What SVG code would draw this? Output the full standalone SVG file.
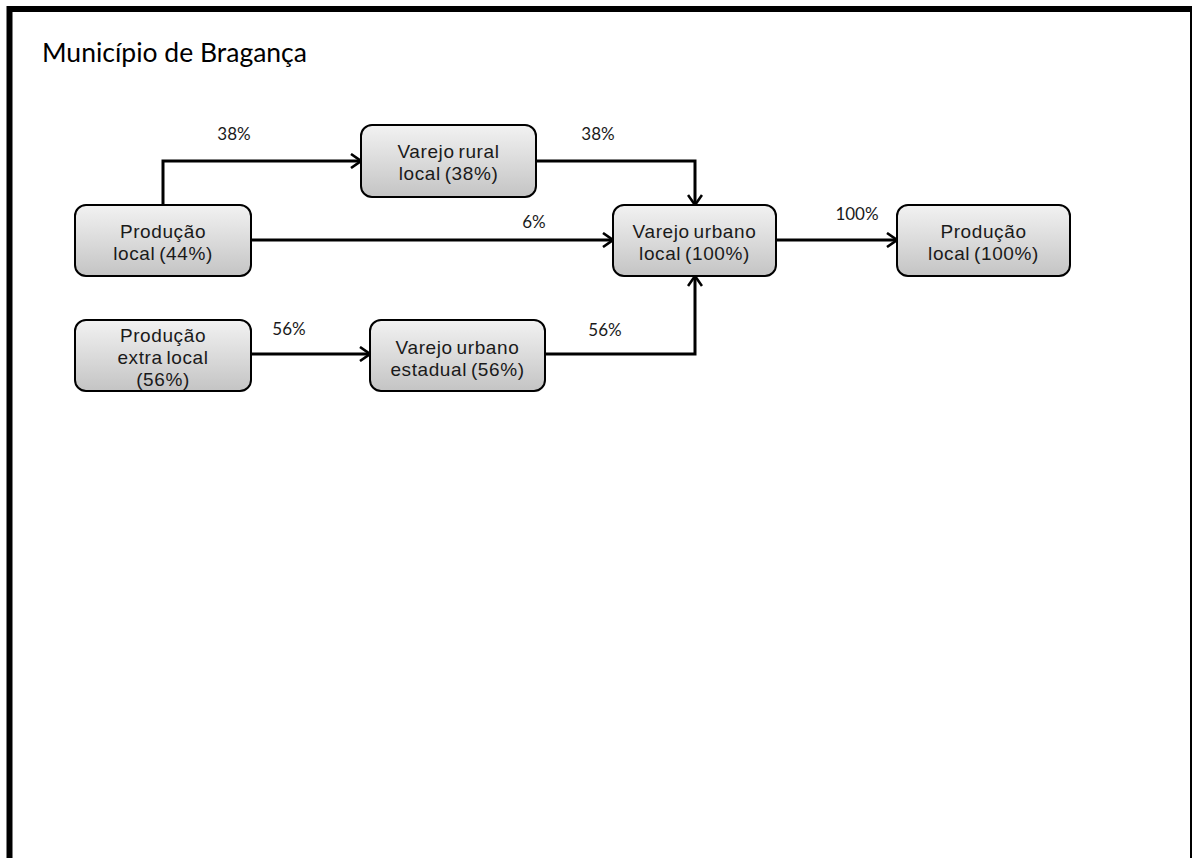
<svg xmlns="http://www.w3.org/2000/svg" width="1192" height="858" viewBox="0 0 1192 858">
  <defs>
    <linearGradient id="boxFill" x1="0" y1="0" x2="0" y2="1">
      <stop offset="0" stop-color="#f2f2f2"/>
      <stop offset="1" stop-color="#c4c4c4"/>
    </linearGradient>
    <marker id="arrow" viewBox="0 0 12 16" refX="11" refY="8" markerWidth="12" markerHeight="16" markerUnits="userSpaceOnUse" orient="auto">
      <path d="M1,1 L11,8 L1,15" fill="none" stroke="#000" stroke-width="2.6" stroke-linejoin="miter"/>
    </marker>
    <style>
      .box { fill: url(#boxFill); stroke: #000; stroke-width: 2; }
      .node-text { font-family: "Liberation Sans", Arial, sans-serif; font-size: 19px; letter-spacing: 0.6px; word-spacing: -2px; fill: #1a1a1a; text-anchor: middle; }
      .flow { fill: none; stroke: #000; stroke-width: 3; marker-end: url(#arrow); }
      .pct { font-family: Lato, "Open Sans", sans-serif; font-size: 17px; fill: #1a1a1a; text-anchor: middle; }
      .title { font-family: Lato, "Open Sans", sans-serif; font-size: 26.5px; fill: #000; }
    </style>
  </defs>

  <rect width="1192" height="858" fill="#fff"/>
  <!-- outer frame, open at the bottom -->
  <rect x="9.5" y="9" width="1183.5" height="900" fill="none" stroke="#000" stroke-width="6"/>

  <text class="title" x="42" y="62">Município de Bragança</text>

  <g id="connectors">
    <path class="flow" d="M163,205 V161 H361"/>
    <path class="flow" d="M536,161 H695 V205"/>
    <path class="flow" d="M251,240 H613"/>
    <path class="flow" d="M776,240 H897"/>
    <path class="flow" d="M251,354 H370"/>
    <path class="flow" d="M545,354 H695 V276"/>
    <text class="pct" x="234" y="140">38%</text>
    <text class="pct" x="598" y="140">38%</text>
    <text class="pct" x="534" y="228">6%</text>
    <text class="pct" x="857" y="220">100%</text>
    <text class="pct" x="289" y="335">56%</text>
    <text class="pct" x="605" y="336">56%</text>
  </g>

  <g id="producao-local-44">
    <rect class="box" x="75" y="205" width="176" height="71" rx="11"/>
    <text class="node-text" x="163" y="238">Produção</text>
    <text class="node-text" x="163" y="260">local (44%)</text>
  </g>

  <g id="varejo-rural-local">
    <rect class="box" x="361" y="125" width="175" height="72" rx="11"/>
    <text class="node-text" x="448.5" y="158">Varejo rural</text>
    <text class="node-text" x="448.5" y="180">local (38%)</text>
  </g>

  <g id="varejo-urbano-local">
    <rect class="box" x="613" y="205" width="163" height="71" rx="11"/>
    <text class="node-text" x="694.5" y="238">Varejo urbano</text>
    <text class="node-text" x="694.5" y="260">local (100%)</text>
  </g>

  <g id="producao-local-100">
    <rect class="box" x="897" y="205" width="173" height="71" rx="11"/>
    <text class="node-text" x="983.5" y="238">Produção</text>
    <text class="node-text" x="983.5" y="260">local (100%)</text>
  </g>

  <g id="producao-extra-local">
    <rect class="box" x="75" y="320" width="176" height="71" rx="11"/>
    <text class="node-text" x="163" y="342">Produção</text>
    <text class="node-text" x="163" y="364">extra local</text>
    <text class="node-text" x="163" y="386">(56%)</text>
  </g>

  <g id="varejo-urbano-estadual">
    <rect class="box" x="370" y="320" width="175" height="71" rx="11"/>
    <text class="node-text" x="457.5" y="354">Varejo urbano</text>
    <text class="node-text" x="457.5" y="376">estadual (56%)</text>
  </g>
</svg>
